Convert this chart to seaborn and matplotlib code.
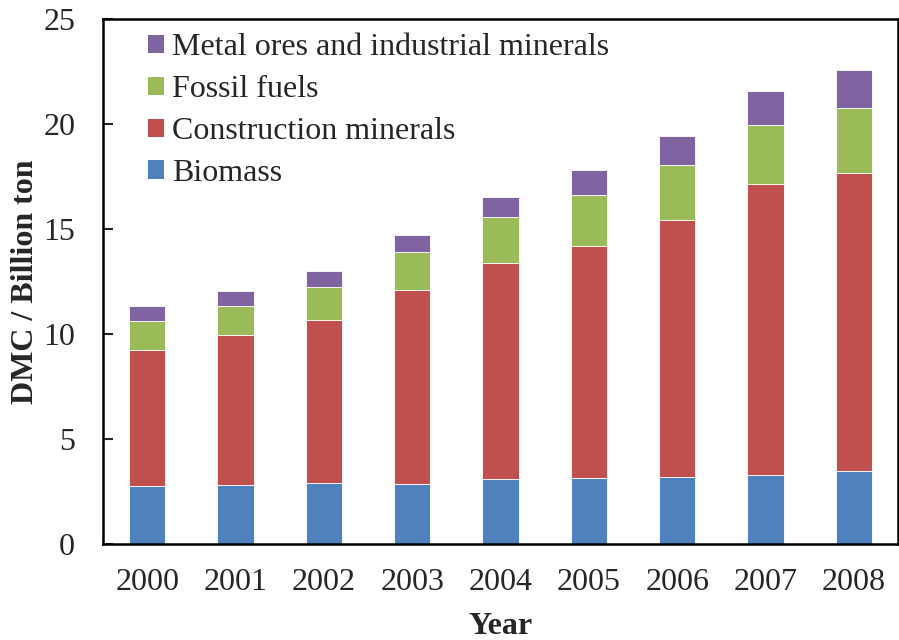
import matplotlib
matplotlib.use("Agg")
import matplotlib.pyplot as plt
import seaborn as sns
import numpy as np
from matplotlib.patches import Patch

years = ['2000', '2001', '2002', '2003', '2004', '2005', '2006', '2007', '2008']
biomass = [2.75, 2.79, 2.89, 2.86, 3.08, 3.13, 3.19, 3.29, 3.46]
construction = [6.50, 7.18, 7.79, 9.24, 10.32, 11.07, 12.25, 13.87, 14.22]
fossil = [1.38, 1.38, 1.56, 1.80, 2.17, 2.42, 2.61, 2.79, 3.08]
metal = [0.69, 0.70, 0.76, 0.80, 0.93, 1.18, 1.39, 1.61, 1.81]

series = [
    ('Biomass', biomass, '#4F81BD'),
    ('Construction minerals', construction, '#C0504D'),
    ('Fossil fuels', fossil, '#9BBB59'),
    ('Metal ores and industrial minerals', metal, '#8064A2'),
]

sns.set_theme(style="white")
plt.rcParams['font.family'] = ['Liberation Serif', 'DejaVu Serif']

fig = plt.figure(figsize=(8.99, 6.40), dpi=100)
ax = fig.add_axes([103 / 899, 96 / 640, 795 / 899, 525 / 640])

bottom = np.zeros(len(years))
for name, vals, color in series:
    sns.barplot(x=years, y=vals, bottom=bottom, color=color, width=0.41, saturation=1,
                errorbar=None, edgecolor='white', linewidth=0.6, ax=ax)
    bottom += np.array(vals)

ax.set_ylim(0, 25)
ax.set_yticks(range(0, 26, 5))
ax.set_xlim(-0.5, len(years) - 0.5)
ax.tick_params(axis='y', direction='in', length=7, width=1.5, pad=20, labelsize=23, left=True)
ax.tick_params(axis='x', length=0, pad=17, labelsize=23)
for sp in ax.spines.values():
    sp.set_visible(True)
    sp.set_color('black')
    sp.set_linewidth(1.8)

ax.set_xlabel('Year', fontsize=23, fontweight='bold', labelpad=11)
ax.set_ylabel('DMC / Billion ton', fontsize=23, fontweight='bold', labelpad=2)

handles = [Patch(facecolor=c, edgecolor='none') for _, _, c in series][::-1]
labels = [n for n, _, _ in series][::-1]
ax.legend(handles, labels, loc='upper left', bbox_to_anchor=(0.03, 1.012), frameon=False,
          fontsize=23, handlelength=0.5, handleheight=0.5, handletextpad=0.25,
          labelspacing=0.4, borderaxespad=0.25)

fig.savefig('out.png', dpi=100)
